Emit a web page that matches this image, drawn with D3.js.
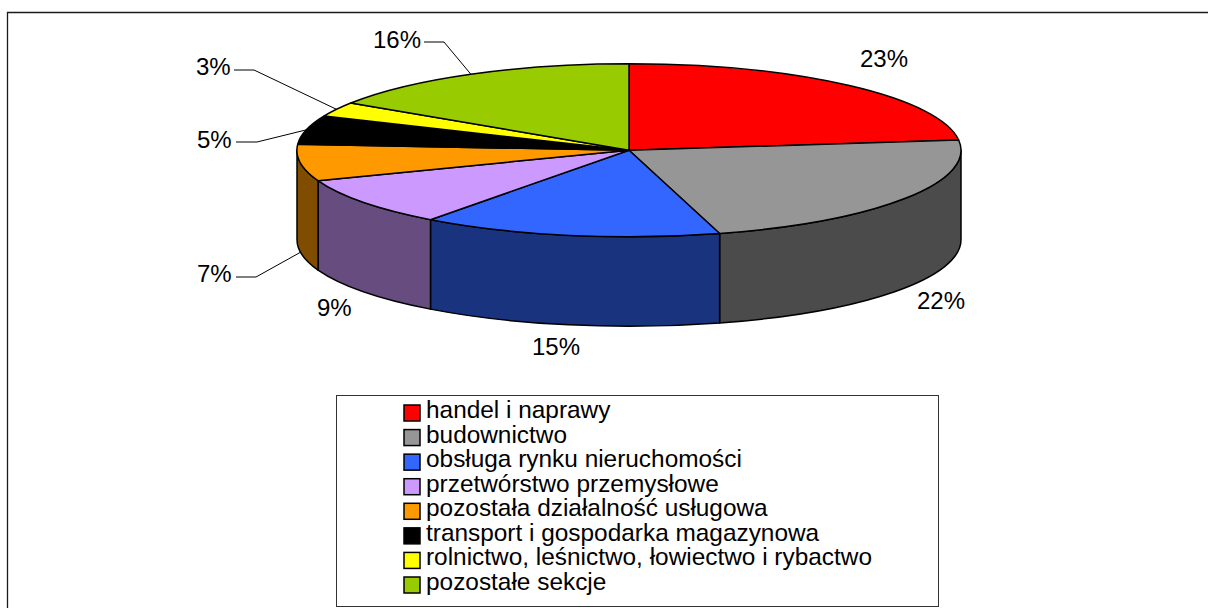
<!DOCTYPE html>
<html lang="pl">
<head>
<meta charset="utf-8">
<script src="https://cdn.jsdelivr.net/npm/d3@7/dist/d3.min.js"></script>
<style>
html,body{margin:0;padding:0;background:#fff;overflow:hidden}
svg{display:block}
text{font-family:"Liberation Sans",Arial,sans-serif;fill:#000}
</style>
</head>
<body>
<script>
const categories = ["handel i naprawy","budownictwo","obsługa rynku nieruchomości","przetwórstwo przemysłowe","pozostała działalność usługowa","transport i gospodarka magazynowa","rolnictwo, leśnictwo, łowiectwo i rybactwo","pozostałe sekcje"];
const shares = [23.1,22.5,14.6,9.1,6.8,5.4,2.7,15.8];
const shareLabels = ["23%","22%","15%","9%","7%","5%","3%","16%"];
const colors = ["#FF0000","#969696","#3366FF","#CC99FF","#FF9900","#000000","#FFFF00","#99CC00"];
const wallColors = ["#7F0000","#4B4B4B","#1A337F","#664C7F","#7F4C00","#000000","#7F7F00","#4C6600"];

// layout of the annotations (label left edge, baseline; leader start/elbow where present)
const labelLayout = [
  {x:860,y:67},{x:917,y:309},{x:532,y:355},{x:317,y:316},
  {x:197,y:282,lead:[[236,277],[256,277]]},
  {x:197,y:148,lead:[[236,142],[257,142]]},
  {x:196,y:75,lead:[[234,70],[254,70]]},
  {x:373,y:48,lead:[[424,42],[444,42]]}
];

const W=1208,H=608,cx=629,cy=150.3,rx=332,ry=86.5,depth=89.5;
const svg=d3.select("body").append("svg").attr("width",W).attr("height",H);

svg.append("path").attr("d",`M7.5 ${H}V12.5H${W}`).attr("fill","none").attr("stroke","#1a1a1a").attr("stroke-width",1.3);

const arcs=d3.pie().sort(null).value(d=>d)(shares);
const px=a=>cx+rx*Math.sin(a), py=a=>cy-ry*Math.cos(a);
const arcGen=d3.arc().innerRadius(0).outerRadius(1);

// side walls of the front half
const pie3d=svg.append("g");
pie3d.selectAll("path.wall").data(arcs.filter(d=>d.endAngle>Math.PI/2&&d.startAngle<1.5*Math.PI)).join("path")
  .attr("class","wall")
  .attr("d",d=>{
    const a0=Math.max(d.startAngle,Math.PI/2),a1=Math.min(d.endAngle,1.5*Math.PI);
    return `M${px(a0)} ${py(a0)}A${rx} ${ry} 0 0 1 ${px(a1)} ${py(a1)}V${py(a1)+depth}A${rx} ${ry} 0 0 0 ${px(a0)} ${py(a0)+depth}Z`;
  })
  .attr("fill",d=>wallColors[d.index]).attr("stroke","#000").attr("stroke-width",1.5).attr("stroke-linejoin","round");

// top face
pie3d.append("g").attr("transform",`translate(${cx},${cy}) scale(${rx},${ry})`)
  .selectAll("path").data(arcs).join("path")
  .attr("d",arcGen)
  .attr("fill",d=>colors[d.index]).attr("stroke","#000").attr("stroke-width",1.5)
  .attr("stroke-linejoin","round").attr("vector-effect","non-scaling-stroke");

// percentage labels and leader lines
svg.selectAll("text.pct").data(arcs).join("text").attr("class","pct")
  .attr("x",d=>labelLayout[d.index].x).attr("y",d=>labelLayout[d.index].y)
  .attr("font-size",24).text(d=>shareLabels[d.index]);

const lineGen=d3.line();
svg.selectAll("path.lead").data(arcs.filter(d=>labelLayout[d.index].lead)).join("path").attr("class","lead")
  .attr("d",d=>{
    const m=(d.startAngle+d.endAngle)/2;
    const front=Math.cos(m)<0;
    return lineGen([...labelLayout[d.index].lead,[px(m),py(m)+(front?depth:0)]]);
  })
  .attr("fill","none").attr("stroke","#000").attr("stroke-width",1);

// legend
svg.append("rect").attr("x",336.5).attr("y",395.5).attr("width",602).attr("height",211)
  .attr("fill","#fff").attr("stroke","#333").attr("stroke-width",1);
const rowY=d3.scalePoint().domain(categories).range([418,590]);
const legend=svg.selectAll("g.row").data(categories).join("g").attr("class","row")
  .attr("transform",d=>`translate(0,${rowY(d)})`);
legend.append("rect").attr("x",404).attr("y",-13).attr("width",16).attr("height",16)
  .attr("fill",(d,i)=>colors[i]).attr("stroke","#000").attr("stroke-width",1.5);
legend.append("text").attr("x",426).attr("y",0).attr("font-size",24.4).text(d=>d);
</script>
</body>
</html>
